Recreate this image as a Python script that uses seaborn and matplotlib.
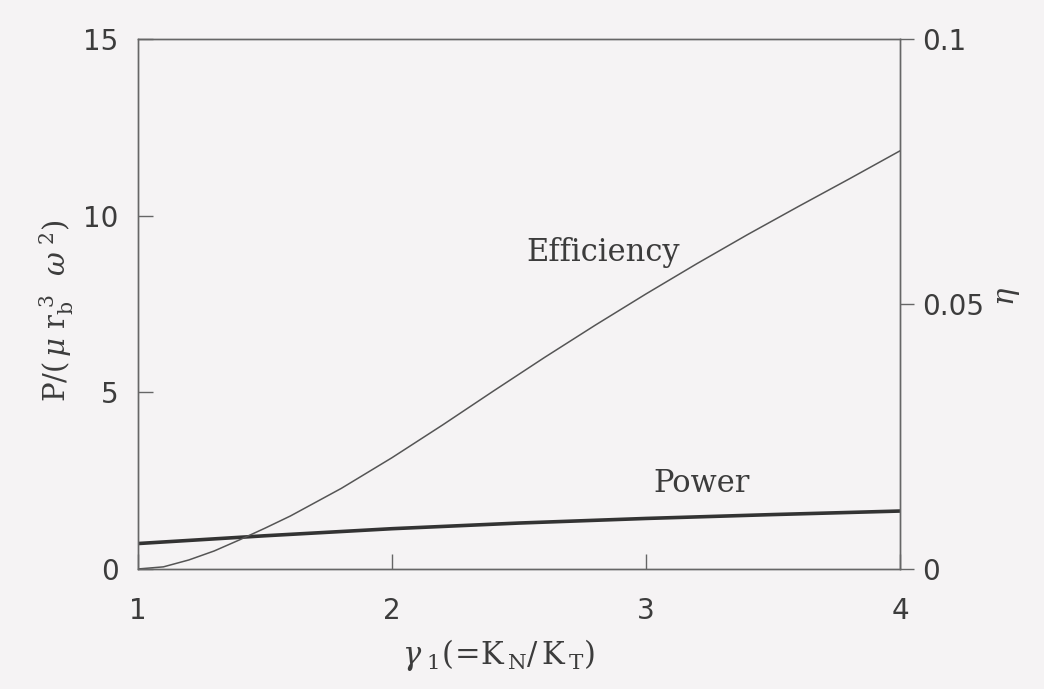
import matplotlib
matplotlib.use("Agg")
import matplotlib.pyplot as plt
import seaborn as sns

# Efficiency eta (right axis) against gamma_1
gamma_eff = [1.0, 1.1, 1.2, 1.3, 1.4, 1.5, 1.6, 1.8, 2.0, 2.2, 2.4, 2.6,
             2.8, 3.0, 3.2, 3.4, 3.6, 3.8, 4.0]
efficiency = [0.0, 0.0004, 0.0017, 0.0034, 0.0055, 0.0077, 0.0100, 0.0152,
              0.0210, 0.0272, 0.0336, 0.0399, 0.0460, 0.0519, 0.0576,
              0.0631, 0.0684, 0.0736, 0.0789]

# Dimensionless power P/(mu r_b^3 omega^2) (left axis) against gamma_1
gamma_pow = [1.0, 1.5, 2.0, 2.5, 3.0, 3.5, 4.0]
power = [0.72, 0.94, 1.14, 1.30, 1.43, 1.54, 1.64]

x_ticks = [1, 2, 3, 4]
p_ticks = [0, 5, 10, 15]
eta_ticks = [0, 0.05, 0.1]
eta_tick_labels = ["0", "0.05", "0.1"]

sns.set_style("ticks")
plt.rcParams["font.family"] = ["DejaVu Sans"]
plt.rcParams["mathtext.fontset"] = "dejavuserif"

bg = "#f5f3f4"
ink = "#3c3c3c"
frame = "#666666"

fig = plt.figure(figsize=(10.44, 6.89), dpi=100, facecolor=bg)
ax = fig.add_axes([0.1322, 0.1742, 0.7299, 0.7692], facecolor=bg)

sns.lineplot(x=gamma_pow, y=power, ax=ax, color="#333333", linewidth=2.6)
ax.set_xlim(1, 4)
ax.set_ylim(0, 15)
ax.set_xticks(x_ticks)
ax.set_yticks(p_ticks)
ax.set_xlabel("")
ax.set_ylabel("")

ax2 = ax.twinx()
sns.lineplot(x=gamma_eff, y=efficiency, ax=ax2, color="#555555", linewidth=1.1)
ax2.set_ylim(0, 0.1)
ax2.set_yticks(eta_ticks)
ax2.set_yticklabels(eta_tick_labels)
ax2.set_ylabel("")

for a in (ax, ax2):
    for s in a.spines.values():
        s.set_visible(True)
        s.set_color(frame)
        s.set_linewidth(1.0)

ax.tick_params(axis="both", direction="in", length=11, width=1.0,
               color=frame, labelcolor=ink, labelsize=20)
ax.tick_params(axis="x", pad=20)
ax.tick_params(axis="y", pad=14)
ax2.tick_params(axis="y", direction="out", length=10, width=1.0,
                color=frame, labelcolor=ink, labelsize=20, pad=6)

ax.text(2.83, 8.97, "Efficiency", family="DejaVu Serif", fontsize=22,
        color=ink, ha="center", va="center")
ax.text(3.22, 2.43, "Power", family="DejaVu Serif", fontsize=22,
        color=ink, ha="center", va="center")

fig.text(57 / 1044, 1 - 311 / 689,
         r"$\mathrm{P}/(\,\mu\ \mathrm{r}_{\mathrm{b}}^{\ 3}\ \ \omega^{\ 2})$",
         rotation=90, ha="center", va="center", fontsize=21, color=ink)
fig.text(498 / 1044, 1 - 655 / 689,
         r"$\gamma_{\ 1}(\!=\!\mathrm{K}_{\,\mathrm{N}}/\,\mathrm{K}_{\,\mathrm{T}})$",
         ha="center", va="center", fontsize=22, color=ink)
fig.text(1008 / 1044, 1 - 296 / 689, r"$\eta$", rotation=90,
         ha="center", va="center", fontsize=21, color=ink)

fig.savefig("out.png", dpi=100, facecolor=bg)
